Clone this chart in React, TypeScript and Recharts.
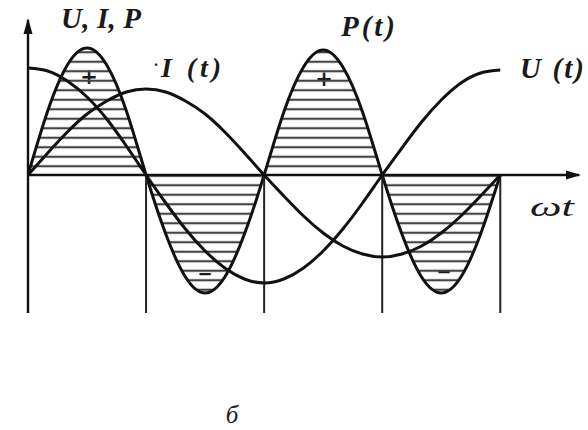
import React from 'react';
import {
  ComposedChart,
  Area,
  Line,
  XAxis,
  YAxis,
  ReferenceLine,
  ReferenceDot,
  Customized,
} from 'recharts';

// Phase angle ωt in degrees (one full period, sampled every 15°)
const PHASE_DEG = [
  0, 15, 30, 45, 60, 75, 90, 105, 120, 135, 150, 165, 180,
  195, 210, 225, 240, 255, 270, 285, 300, 315, 330, 345, 360,
];

// Voltage U(t)
const U_VALUES = [
  107, 104, 94, 78, 56, 29, 0, -28, -54, -76, -93, -104, -108,
  -104, -93, -76, -54, -28, 0, 27, 53, 75, 92, 102, 105,
];

// Current I(t)
const I_VALUES = [
  0, 22, 43, 61, 74, 83, 86, 83, 74, 61, 43, 22, 0,
  -21, -41, -58, -71, -79, -82, -79, -71, -58, -41, -21, 0,
];

// Instantaneous power P(t)
const P_VALUES = [
  0, 64, 110, 127, 110, 64, 0, -59, -102, -118, -102, -59, 0,
  63, 108, 125, 108, 63, 0, -59, -102, -118, -102, -59, 0,
];

// Quarter-period markers dropped below the time axis
const QUARTER_MARKS = [90, 180, 270, 360];

const X_DOMAIN: [number, number] = [0, 420];
const Y_DOMAIN: [number, number] = [-138, 155];

const data = PHASE_DEG.map((deg, k) => ({
  deg,
  u: U_VALUES[k],
  i: I_VALUES[k],
  p: P_VALUES[k],
}));

const INK = '#111';
const SERIF = "'Liberation Serif', 'DejaVu Serif', 'Times New Roman', serif";
const SIGNS = "'DejaVu Sans', sans-serif";

const UpArrow = (props: any) => {
  const { cx, cy } = props;
  return (
    <path
      d={`M${cx},${cy - 2} L${cx - 4.5},${cy + 14} L${cx + 4.5},${cy + 14} Z`}
      fill={INK}
    />
  );
};

const RightArrow = (props: any) => {
  const { cx, cy } = props;
  return (
    <path
      d={`M${cx + 2},${cy} L${cx - 13},${cy - 4.5} L${cx - 13},${cy + 4.5} Z`}
      fill={INK}
    />
  );
};

const Captions = () => (
  <g fill="#1a1a1a">
    <g fontFamily={SERIF} fontStyle="italic" fontWeight="bold">
      <text x={61} y={28} fontSize={29} textLength={80} lengthAdjust="spacing">
        U, I, P
      </text>
      <text x={154} y={70} fontSize={16}>
        ·
      </text>
      <text x={161} y={77} fontSize={28} textLength={60} lengthAdjust="spacing">
        I (t)
      </text>
      <text x={341} y={36} fontSize={29} textLength={54} lengthAdjust="spacing">
        P(t)
      </text>
      <text x={520} y={78} fontSize={29} textLength={64} lengthAdjust="spacing">
        U (t)
      </text>
    </g>
    <text
      x={530}
      y={216}
      fontFamily={SERIF}
      fontStyle="italic"
      fontSize={27}
      textLength={44}
      lengthAdjust="spacingAndGlyphs"
    >
      ωt
    </text>
    <g fontFamily={SIGNS} fontWeight="bold" textAnchor="middle">
      <text x={89} y={84} fontSize={21}>
        +
      </text>
      <text x={324} y={86} fontSize={21}>
        +
      </text>
      <text x={205} y={280} fontSize={18}>
        −
      </text>
      <text x={444} y={278} fontSize={18}>
        −
      </text>
    </g>
    <text
      x={232}
      y={423}
      textAnchor="middle"
      fontFamily={SERIF}
      fontStyle="italic"
      fontSize={25}
    >
      б
    </text>
  </g>
);

export default function App() {
  return (
    <div style={{ position: 'absolute', left: 0, top: 0, background: '#fff' }}>
      <ComposedChart
        width={588}
        height={430}
        data={data}
        margin={{ top: 20, right: 9, bottom: 117, left: 28 }}
      >
        <defs>
          <pattern
            id="hatch"
            patternUnits="userSpaceOnUse"
            width={12}
            height={9.5}
          >
            <line x1={0} y1={4.75} x2={12} y2={4.75} stroke="#444" strokeWidth={2.2} />
          </pattern>
        </defs>
        <XAxis dataKey="deg" type="number" domain={X_DOMAIN} hide allowDataOverflow />
        <YAxis type="number" domain={Y_DOMAIN} hide allowDataOverflow />

        <Area
          dataKey="p"
          type="natural"
          stroke={INK}
          strokeWidth={3}
          fill="url(#hatch)"
          fillOpacity={1}
          dot={false}
          activeDot={false}
          isAnimationActive={false}
        />

        {QUARTER_MARKS.map((deg) => (
          <ReferenceLine
            key={deg}
            segment={[
              { x: deg, y: 0 },
              { x: deg, y: Y_DOMAIN[0] },
            ]}
            stroke="#222"
            strokeWidth={2}
            ifOverflow="visible"
          />
        ))}
        <ReferenceLine x={0} stroke={INK} strokeWidth={2.4} ifOverflow="visible" />
        <ReferenceLine y={0} stroke={INK} strokeWidth={2.6} ifOverflow="visible" />

        <Line
          dataKey="u"
          type="natural"
          stroke={INK}
          strokeWidth={3}
          dot={false}
          activeDot={false}
          isAnimationActive={false}
        />
        <Line
          dataKey="i"
          type="natural"
          stroke={INK}
          strokeWidth={3}
          dot={false}
          activeDot={false}
          isAnimationActive={false}
        />

        <ReferenceDot x={0} y={Y_DOMAIN[1]} shape={UpArrow} ifOverflow="visible" />
        <ReferenceDot x={X_DOMAIN[1]} y={0} shape={RightArrow} ifOverflow="visible" />

        <Customized component={Captions} />
      </ComposedChart>
    </div>
  );
}
